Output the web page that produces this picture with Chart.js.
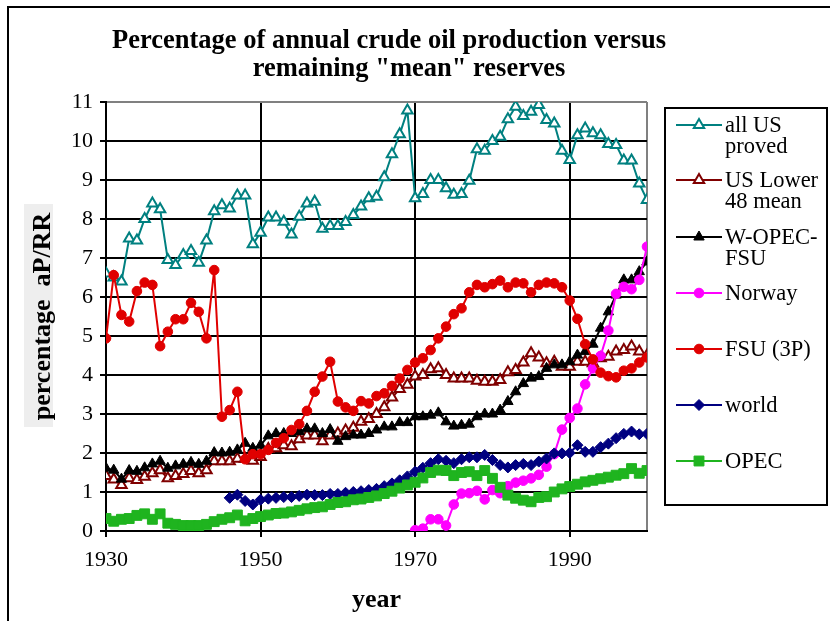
<!DOCTYPE html>
<html>
<head>
<meta charset="utf-8">
<script src="https://cdn.jsdelivr.net/npm/chart.js@4/dist/chart.umd.min.js"></script>
<style>
  html, body { margin: 0; padding: 0; background: #fff; }
  canvas { display: block; }
</style>
</head>
<body>
<canvas id="grafico" width="830" height="621"></canvas>
<script>
// years 1930..2000 on the x axis
var years = [];
for (var y = 1930; y <= 2000; y++) years.push(y);

var xTickLabels = [1930, 1950, 1970, 1990];
var yTicks = [0, 1, 2, 3, 4, 5, 6, 7, 8, 9, 10, 11];

var seriesNames = [['all US', 'proved'], ['US Lower', '48 mean'], ['W-OPEC-', 'FSU'], ['Norway'], ['FSU (3P)'], ['world'], ['OPEC']];

var allUSProved = [6.6, 6.5, 6.4, 7.5, 7.45, 8.0, 8.4, 8.25, 6.95, 6.82,
  7.08, 7.18, 6.88, 7.45, 8.2, 8.35, 8.27, 8.6, 8.6, 7.35,
  7.65, 8.04, 8.04, 7.93, 7.6, 8.06, 8.4, 8.44, 7.75, 7.82,
  7.82, 7.92, 8.1, 8.32, 8.53, 8.57, 9.07, 9.66, 10.17, 10.78,
  8.53, 8.64, 9.0, 9.0, 8.79, 8.62, 8.64, 8.98, 9.79, 9.75,
  10.0, 10.11, 10.56, 10.88, 10.64, 10.75, 10.92, 10.54, 10.45, 9.75,
  9.51, 10.15, 10.32, 10.2, 10.15, 9.92, 9.9, 9.5, 9.5, 8.91,
  8.49];

var usLower48 = [1.41, 1.32, 1.18, 1.35, 1.31, 1.39, 1.48, 1.56, 1.35, 1.41,
  1.46, 1.54, 1.48, 1.56, 1.79, 1.79, 1.79, 1.85, 1.85, 1.8,
  1.9, 2.1, 2.12, 2.2, 2.17, 2.35, 2.45, 2.45, 2.3, 2.45,
  2.5, 2.58, 2.65, 2.8, 2.87, 3.0, 3.17, 3.42, 3.64, 3.75,
  3.96, 4.0, 4.15, 4.17, 4.0, 3.91, 3.91, 3.91, 3.85, 3.83,
  3.83, 3.87, 4.07, 4.13, 4.32, 4.56, 4.45, 4.3, 4.34, 4.21,
  4.21, 4.34, 4.34, 4.3, 4.43, 4.47, 4.6, 4.64, 4.73, 4.6,
  4.5];

var wOpecFsu = [1.61, 1.56, 1.33, 1.55, 1.53, 1.62, 1.72, 1.79, 1.61, 1.67,
  1.71, 1.76, 1.71, 1.79, 2.01, 2.0, 2.02, 2.08, 2.25, 2.12,
  2.2, 2.44, 2.5, 2.5, 2.5, 2.55, 2.62, 2.62, 2.5, 2.6,
  2.3, 2.42, 2.46, 2.46, 2.5, 2.59, 2.67, 2.67, 2.78, 2.78,
  2.93, 2.93, 2.97, 3.03, 2.8, 2.69, 2.71, 2.74, 2.93, 3.0,
  3.0, 3.1, 3.32, 3.57, 3.78, 3.92, 3.96, 4.17, 4.26, 4.26,
  4.34, 4.51, 4.6, 4.79, 5.2, 5.62, 6.05, 6.44, 6.44, 6.65,
  6.9];

var norway = [null, null, null, null, null, null, null, null, null, null,
  null, null, null, null, null, null, null, null, null, null,
  null, null, null, null, null, null, null, null, null, null,
  null, null, null, null, null, null, null, null, null, null,
  0.02, 0.06, 0.3, 0.3, 0.14, 0.68, 0.96, 0.97, 1.03, 0.81,
  1.05, 0.97, 1.15, 1.24, 1.29, 1.35, 1.44, 1.65, 1.97, 2.6,
  2.9, 3.14, 3.76, 4.17, 4.49, 5.14, 6.08, 6.26, 6.2, 6.44,
  7.29];

var fsu3P = [4.94, 6.56, 5.54, 5.37, 6.15, 6.37, 6.31, 4.74, 5.11, 5.43,
  5.43, 5.85, 5.62, 4.94, 6.69, 2.93, 3.1, 3.57, 1.84, 1.97,
  1.97, 2.08, 2.26, 2.38, 2.59, 2.74, 3.08, 3.57, 3.96, 4.34,
  3.32, 3.17, 3.08, 3.33, 3.27, 3.46, 3.53, 3.72, 3.91, 4.13,
  4.32, 4.43, 4.64, 4.94, 5.24, 5.56, 5.71, 6.12, 6.31, 6.25,
  6.33, 6.42, 6.25, 6.37, 6.35, 6.12, 6.31, 6.37, 6.35, 6.25,
  5.91, 5.44, 4.79, 4.4, 4.06, 3.97, 3.94, 4.11, 4.17, 4.32,
  4.45];

var world = [null, null, null, null, null, null, null, null, null, null,
  null, null, null, null, null, null, 0.85, 0.93, 0.77, 0.68,
  0.8, 0.83, 0.85, 0.87, 0.87, 0.9, 0.93, 0.92, 0.92, 0.95,
  0.95, 0.98, 1.0, 1.02, 1.05, 1.08, 1.15, 1.22, 1.3, 1.4,
  1.52, 1.62, 1.74, 1.84, 1.8, 1.74, 1.84, 1.89, 1.89, 1.95,
  1.82, 1.69, 1.63, 1.69, 1.72, 1.69, 1.78, 1.86, 1.99, 1.99,
  2.0, 2.2, 2.03, 2.03, 2.15, 2.24, 2.38, 2.49, 2.55, 2.48,
  2.49];

var opec = [0.32, 0.25, 0.3, 0.32, 0.4, 0.44, 0.3, 0.44, 0.2, 0.17,
  0.14, 0.14, 0.14, 0.17, 0.24, 0.3, 0.34, 0.41, 0.26, 0.32,
  0.37, 0.41, 0.45, 0.46, 0.49, 0.53, 0.57, 0.6, 0.62, 0.68,
  0.73, 0.75, 0.8, 0.82, 0.86, 0.9, 0.96, 1.02, 1.1, 1.18,
  1.25, 1.36, 1.5, 1.56, 1.55, 1.42, 1.5, 1.52, 1.42, 1.55,
  1.35, 1.12, 0.92, 0.84, 0.79, 0.75, 0.86, 0.88, 1.0, 1.08,
  1.14, 1.2, 1.26, 1.3, 1.34, 1.38, 1.43, 1.47, 1.6, 1.48,
  1.55];

var serif = 'Liberation Serif, Times New Roman, serif';

function serie(i, data, color, style, radius, filled) {
  return {
    label: seriesNames[i].join(' '),
    data: data,
    borderColor: color,
    borderWidth: 2,
    pointStyle: style,
    pointRadius: radius,
    pointBorderWidth: filled ? 1 : 2,
    pointBorderColor: color,
    pointBackgroundColor: filled ? color : '#ffffff',
    tension: 0,
    spanGaps: false,
    order: 6 - i
  };
}

var datasets = [
  serie(0, allUSProved, '#008080', 'triangle', 6, false),
  serie(1, usLower48, '#800000', 'triangle', 6, false),
  serie(2, wOpecFsu, '#000000', 'triangle', 6, true),
  serie(3, norway, '#ff00ff', 'circle', 4.8, true),
  serie(4, fsu3P, '#e00000', 'circle', 4.8, true),
  serie(5, world, '#000080', 'rectRot', 5.5, true),
  serie(6, opec, '#1fb41f', 'rect', 7, true)
];

function marker(c, ds, x, y) {
  var r = ds.pointRadius;
  c.beginPath();
  if (ds.pointStyle === 'triangle') {
    c.moveTo(x, y - r);
    c.lineTo(x + r * 0.866, y + r / 2);
    c.lineTo(x - r * 0.866, y + r / 2);
    c.closePath();
  } else if (ds.pointStyle === 'circle') {
    c.arc(x, y, r, 0, Math.PI * 2);
  } else if (ds.pointStyle === 'rectRot') {
    c.moveTo(x - r, y); c.lineTo(x, y - r); c.lineTo(x + r, y); c.lineTo(x, y + r);
    c.closePath();
  } else {
    var s = r * Math.SQRT1_2;
    c.rect(x - s, y - s, 2 * s, 2 * s);
  }
  c.fillStyle = ds.pointBackgroundColor;
  c.fill();
  c.lineWidth = ds.pointBorderWidth;
  c.strokeStyle = ds.pointBorderColor;
  c.stroke();
}

var legendLineY = [125, 180, 237, 293, 349, 405, 461];

var decor = {
  id: 'decor',
  beforeDraw: function(chart) {
    var c = chart.ctx;
    c.save();
    c.fillStyle = '#ffffff';
    c.fillRect(0, 0, chart.width, chart.height);
    c.fillStyle = '#eeeeee';
    c.fillRect(24, 204, 29, 223);
    c.restore();
  },
  afterDraw: function(chart) {
    var c = chart.ctx;
    c.save();
    // outer frame
    c.strokeStyle = '#000';
    c.lineWidth = 2;
    c.strokeRect(8, 7, 900, 700);

    // title
    c.fillStyle = '#000';
    c.font = 'bold 26.5px ' + serif;
    c.textAlign = 'center';
    c.textBaseline = 'alphabetic';
    c.fillText('Percentage of annual crude oil production versus', 389, 48);
    c.fillText('remaining "mean" reserves', 409, 76);

    // legend
    c.lineWidth = 2;
    c.strokeStyle = '#000';
    c.strokeRect(665, 108, 162, 397);
    c.font = '22.5px ' + serif;
    c.textAlign = 'left';
    for (var i = 0; i < datasets.length; i++) {
      var ds = datasets[i];
      var ly = legendLineY[i];
      c.beginPath();
      c.moveTo(676, ly);
      c.lineTo(722, ly);
      c.lineWidth = 2;
      c.strokeStyle = ds.borderColor;
      c.stroke();
      marker(c, ds, 699, ly);
      c.fillStyle = '#000';
      for (var k = 0; k < seriesNames[i].length; k++) {
        c.fillText(seriesNames[i][k], 725, ly + 7 + k * 21);
      }
    }
    c.restore();
  }
};

new Chart(document.getElementById('grafico'), {
  type: 'line',
  data: { labels: years, datasets: datasets },
  plugins: [decor],
  options: {
    responsive: false,
    animation: false,
    events: [],
    layout: { padding: { left: 24, right: 183, top: 102, bottom: 0 } },
    plugins: { legend: { display: false }, title: { display: false }, tooltip: { enabled: false } },
    scales: {
      x: {
        type: 'linear',
        min: 1930,
        max: 2000,
        afterFit: function(scale) { scale.height = 90; },
        ticks: {
          stepSize: 10,
          autoSkip: false,
          maxRotation: 0,
          padding: 10,
          color: '#000',
          font: { family: serif, size: 22 },
          callback: function(v) { return xTickLabels.indexOf(v) >= 0 ? String(v) : ''; }
        },
        grid: {
          lineWidth: 2,
          tickLength: 6,
          color: function(ctx) {
            var v = ctx.tick && ctx.tick.value;
            if (v === 2000) return '#808080';
            return (v === 1950 || v === 1970 || v === 1990) ? '#000' : 'rgba(0,0,0,0)';
          },
          tickColor: function(ctx) {
            var v = ctx.tick && ctx.tick.value;
            return xTickLabels.indexOf(v) >= 0 ? '#000' : 'rgba(0,0,0,0)';
          }
        },
        border: { display: true, color: '#000', width: 2 },
        title: {
          display: true,
          text: 'year',
          color: '#000',
          padding: { top: 0, bottom: 5 },
          font: { family: serif, size: 26, weight: 'bold' }
        }
      },
      y: {
        min: 0,
        max: 11,
        afterFit: function(scale) { scale.width = 82; },
        afterBuildTicks: function(scale) { scale.ticks = yTicks.map(function(v) { return { value: v }; }); },
        ticks: {
          padding: 7,
          color: '#000',
          font: { family: serif, size: 22 }
        },
        grid: {
          lineWidth: 2,
          tickLength: 6,
          color: function(ctx) { return ctx.tick && ctx.tick.value === 11 ? '#808080' : '#000'; },
          tickColor: '#000'
        },
        border: { display: true, color: '#000', width: 2 },
        title: {
          display: true,
          text: 'percentage  aP/RR',
          color: '#000',
          padding: { top: 4, bottom: 4 },
          font: { family: serif, size: 26, weight: 'bold' }
        }
      }
    }
  }
});
</script>
</body>
</html>
